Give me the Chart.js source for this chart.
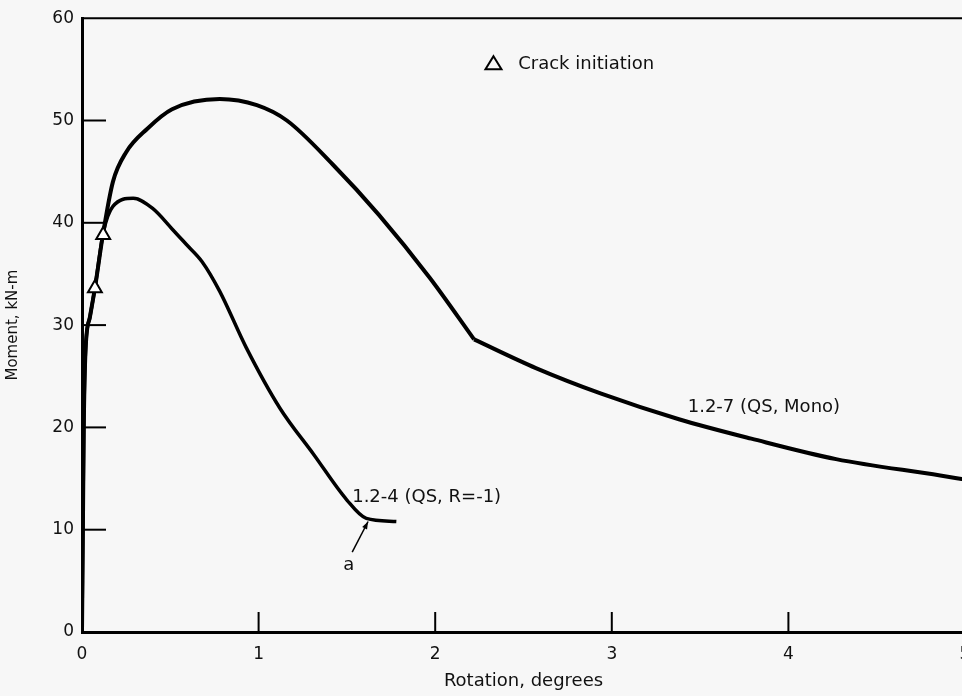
<!DOCTYPE html>
<html>
<head>
<meta charset="utf-8">
<script src="https://cdn.jsdelivr.net/npm/chart.js@4/dist/chart.umd.min.js"></script>
<style>
  html, body { margin: 0; padding: 0; background: #f7f7f7; overflow: hidden; }
  #wrap { width: 962px; height: 696px; overflow: hidden; }
</style>
</head>
<body>
<div id="wrap"><canvas id="chart" width="990" height="696"></canvas></div>
<script>
// Data

// 1.2-7 (QS, Mono), rising branch up to the kink at 2.22
var monoRotation = [0, 0.005, 0.01, 0.02, 0.045, 0.073, 0.12, 0.175, 0.25, 0.37, 0.51, 0.78, 0.99, 1.16, 1.42, 1.68, 1.97, 2.22];
var monoMoment   = [0, 10,    20,   27.5, 30.8,  33.6,  39,   44,    46.9, 49.2, 51.1, 52.1, 51.5, 50,   45.7, 40.8, 34.6, 28.6];
// 1.2-7 (QS, Mono), tail after the kink
var monoTailRotation = [2.22, 2.57, 2.94, 3.38, 3.79, 4.27, 4.86, 5.0];
var monoTailMoment   = [28.6, 25.8, 23.3, 20.8, 18.9, 16.9, 15.3, 14.9];

// 1.2-4 (QS, R=-1)
var revRotation = [0, 0.005, 0.01, 0.02, 0.045, 0.073, 0.12, 0.175, 0.29, 0.4,  0.51, 0.59, 0.68, 0.78, 0.93, 1.12, 1.31, 1.5,  1.61, 1.78];
var revMoment   = [0, 10,    20,   27.5, 30.8,  33.6,  39,   41.6,  42.4, 41.4, 39.4, 37.9, 36.2, 33.3, 27.8, 21.9, 17.4, 12.9, 11.1, 10.8];

// crack initiation markers
var crackRotation = [0.073, 0.12];
var crackMoment   = [33.6, 38.8];

var xTicks = [0, 1, 2, 3, 4, 5];
var yTicks = [0, 10, 20, 30, 40, 50, 60];

// Utils
var toPoints = function(xs, ys){
    return xs.map(function(x, i){ return {x: x, y: ys[i]}; });
};

var curve = function(label, xs, ys, width){
    return {
        label: label,
        data: toPoints(xs, ys),
        showLine: true,
        borderColor: '#000',
        borderWidth: width,
        pointRadius: 0,
        cubicInterpolationMode: 'monotone',
        order: 1
    };
};

Chart.defaults.font.family = "'DejaVu Sans', sans-serif";
Chart.defaults.font.size = 15;
Chart.defaults.color = '#111';

// inward ticks, top frame and text notes
var paperPlugin = {
    id: 'paper',
    afterDraw: function(chart){
        var ctx = chart.ctx;
        var xs = chart.scales.x, ys = chart.scales.y;
        var area = chart.chartArea;
        ctx.save();
        ctx.strokeStyle = '#000';
        ctx.lineWidth = 2;

        // top frame
        ctx.beginPath();
        ctx.moveTo(area.left, area.top);
        ctx.lineTo(area.right, area.top);
        ctx.stroke();

        // y ticks, pointing in
        yTicks.slice(1, -1).forEach(function(v){
            var py = ys.getPixelForValue(v);
            ctx.beginPath();
            ctx.moveTo(area.left, py);
            ctx.lineTo(area.left + 24, py);
            ctx.stroke();
        });
        // x ticks, pointing up
        xTicks.slice(1, -1).forEach(function(v){
            var px = xs.getPixelForValue(v);
            ctx.beginPath();
            ctx.moveTo(px, area.bottom);
            ctx.lineTo(px, area.bottom - 20);
            ctx.stroke();
        });

        // legend triangle
        var tx = xs.getPixelForValue(2.33), ty = ys.getPixelForValue(55.6);
        ctx.lineWidth = 2;
        ctx.beginPath();
        ctx.moveTo(tx, ty - 7);
        ctx.lineTo(tx + 8, ty + 6);
        ctx.lineTo(tx - 8, ty + 6);
        ctx.closePath();
        ctx.stroke();

        // notes
        ctx.fillStyle = '#111';
        ctx.font = "18px 'DejaVu Sans', sans-serif";
        ctx.textBaseline = 'middle';
        ctx.textAlign = 'left';
        ctx.fillText('Crack initiation', xs.getPixelForValue(2.47), ys.getPixelForValue(55.5));
        ctx.fillText('1.2-7 (QS, Mono)', xs.getPixelForValue(3.43), ys.getPixelForValue(22.0));
        ctx.fillText('1.2-4 (QS, R=-1)', xs.getPixelForValue(1.53), ys.getPixelForValue(13.2));
        ctx.textAlign = 'center';
        ctx.fillText('a', xs.getPixelForValue(1.51), ys.getPixelForValue(6.5));

        // arrow to point a
        var ax0 = xs.getPixelForValue(1.53), ay0 = ys.getPixelForValue(7.8);
        var ax1 = xs.getPixelForValue(1.62), ay1 = ys.getPixelForValue(10.8);
        ctx.lineWidth = 1.5;
        ctx.beginPath();
        ctx.moveTo(ax0, ay0);
        ctx.lineTo(ax1, ay1);
        ctx.stroke();
        var ang = Math.atan2(ay1 - ay0, ax1 - ax0);
        ctx.beginPath();
        ctx.moveTo(ax1, ay1);
        ctx.lineTo(ax1 - 8 * Math.cos(ang - 0.35), ay1 - 8 * Math.sin(ang - 0.35));
        ctx.lineTo(ax1 - 8 * Math.cos(ang + 0.35), ay1 - 8 * Math.sin(ang + 0.35));
        ctx.closePath();
        ctx.fillStyle = '#000';
        ctx.fill();
        ctx.restore();
    }
};

var chart = new Chart(document.getElementById('chart'), {
    type: 'scatter',
    data: {
        datasets: [
            {
                label: 'Crack initiation',
                data: toPoints(crackRotation, crackMoment),
                pointStyle: 'triangle',
                pointRadius: 8,
                pointBorderWidth: 2,
                pointBackgroundColor: '#fff',
                pointBorderColor: '#000',
                showLine: false,
                order: 0
            },
            curve('1.2-7 (QS, Mono)', monoRotation, monoMoment, 4),
            curve('1.2-7 (QS, Mono) tail', monoTailRotation, monoTailMoment, 4),
            curve('1.2-4 (QS, R=-1)', revRotation, revMoment, 3.5)
        ]
    },
    options: {
        responsive: false,
        animation: false,
        layout: { padding: { top: 16, right: 25, left: 0, bottom: 0 } },
        plugins: {
            legend: { display: false },
            tooltip: { enabled: false }
        },
        scales: {
            x: {
                type: 'linear',
                min: 0, max: 5,
                afterBuildTicks: function(scale){ scale.ticks = xTicks.map(function(v){ return {value: v}; }); },
                afterFit: function(scale){ scale.height = 64; },
                grid: { display: false, drawTicks: false },
                border: { display: true, color: '#000', width: 3 },
                ticks: { padding: 12, font: { size: 17 } },
                title: { display: true, text: 'Rotation, degrees', font: { size: 18 }, padding: { top: 4 } }
            },
            y: {
                type: 'linear',
                min: 0, max: 60,
                afterBuildTicks: function(scale){ scale.ticks = yTicks.map(function(v){ return {value: v}; }); },
                afterFit: function(scale){ scale.width = 82; },
                grid: { display: false, drawTicks: false },
                border: { display: true, color: '#000', width: 3 },
                ticks: { padding: 8, font: { size: 17 } },
                title: { display: true, text: 'Moment, kN-m', font: { size: 15 }, padding: { bottom: 4 } }
            }
        }
    },
    plugins: [paperPlugin]
});
</script>
</body>
</html>
